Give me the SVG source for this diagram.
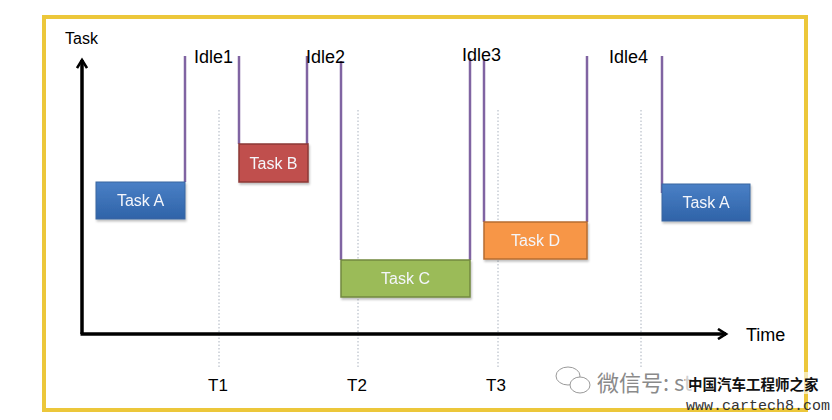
<svg xmlns="http://www.w3.org/2000/svg" width="832" height="420" viewBox="0 0 832 420">
<defs>
<linearGradient id="gBlue" x1="0" y1="0" x2="0" y2="1"><stop offset="0" stop-color="#4a80c6"/><stop offset="1" stop-color="#2f63a8"/></linearGradient>
<filter id="sh" x="-10%" y="-10%" width="130%" height="140%"><feDropShadow dx="1" dy="2" stdDeviation="1.2" flood-color="#000" flood-opacity="0.25"/></filter>
<marker id="arr" viewBox="0 0 12 12" refX="9" refY="6" markerWidth="12" markerHeight="12" markerUnits="userSpaceOnUse" orient="auto"><path d="M1,1 L9,6 L1,11" fill="none" stroke="#000" stroke-width="2.6" stroke-linejoin="miter"/></marker>
</defs>
<style>
text{font-family:"Liberation Sans",Arial,sans-serif}
.lbl{font-size:18px;fill:#000}
.tl{font-size:17px;fill:#000;text-anchor:middle}
.box{font-size:16px;fill:#f4f6fb;text-anchor:middle}
.pl{stroke:#8064a2;stroke-width:2.5;fill:none}
.dash{stroke:#aab2be;stroke-width:1;stroke-dasharray:1.5 2;fill:none}
.ax{stroke:#000;stroke-width:3.5;fill:none}
</style>
<rect x="0" y="0" width="832" height="420" fill="#fff"/>
<rect x="44" y="17" width="762" height="393" fill="#fff" stroke="#ecc73a" stroke-width="4"/>

<g id="connectors">
<line class="dash" x1="219" y1="110" x2="219" y2="369"/>
<line class="dash" x1="358" y1="110" x2="358" y2="369"/>
<line class="dash" x1="498" y1="110" x2="498" y2="369"/>
<line class="dash" x1="641" y1="110" x2="641" y2="369"/>
<path class="ax" d="M82,334 V60" marker-end="url(#arr)"/>
<path class="ax" d="M80.5,334 H726" marker-end="url(#arr)"/>
<line class="pl" x1="185" y1="56" x2="185" y2="182"/>
<line class="pl" x1="239" y1="56" x2="239" y2="144"/>
<line class="pl" x1="307" y1="56" x2="307" y2="144"/>
<line class="pl" x1="341" y1="61" x2="341" y2="260"/>
<line class="pl" x1="470" y1="58" x2="470" y2="260"/>
<line class="pl" x1="484" y1="60" x2="484" y2="222"/>
<line class="pl" x1="587" y1="56" x2="587" y2="222"/>
<line class="pl" x1="662" y1="56" x2="662" y2="193"/>
</g>

<g id="taskA1" filter="url(#sh)">
<rect x="96" y="182" width="89" height="37" fill="url(#gBlue)" stroke="#3a66a0" stroke-width="1"/>
<text class="box" x="140.5" y="206">Task A</text>
</g>
<g id="taskB" filter="url(#sh)">
<rect x="239" y="144" width="69" height="38" fill="#c0504d" stroke="#8c3836" stroke-width="1.5"/>
<text class="box" x="273.5" y="169">Task B</text>
</g>
<g id="taskC" filter="url(#sh)">
<rect x="341" y="260" width="129" height="37" fill="#9bbb59" stroke="#71893f" stroke-width="1.5"/>
<text class="box" x="405.5" y="284">Task C</text>
</g>
<g id="taskD" filter="url(#sh)">
<rect x="484" y="222" width="103" height="37" fill="#f79646" stroke="#b66d31" stroke-width="1.5"/>
<text class="box" x="535.5" y="246">Task D</text>
</g>
<g id="taskA2" filter="url(#sh)">
<rect x="662" y="184" width="88" height="37" fill="url(#gBlue)" stroke="#3a66a0" stroke-width="1"/>
<text class="box" x="706" y="208">Task A</text>
</g>

<g id="labels">
<text x="65" y="44" style="font-size:16px">Task</text>
<text x="746" y="341" class="lbl">Time</text>
<text x="194" y="63" class="lbl">Idle1</text>
<text x="306" y="63" class="lbl">Idle2</text>
<text x="462" y="61" class="lbl">Idle3</text>
<text x="609" y="63" class="lbl">Idle4</text>
<text x="218" y="391" class="tl">T1</text>
<text x="357" y="391" class="tl">T2</text>
<text x="496" y="391" class="tl">T3</text>
</g>

<g id="watermark">
<g fill="#fff" stroke="#9a9a9a" stroke-width="1">
<ellipse cx="568" cy="376" rx="12" ry="9"/>
<ellipse cx="580" cy="385" rx="10" ry="8"/>
</g>
<text x="597" y="391" style="font-size:22px;fill:#8a8a8a;font-family:'Noto Sans CJK SC',sans-serif">微信号: st</text>
<rect x="685" y="372" width="134" height="22" fill="#fff" opacity="0.6"/>
<text x="688" y="390" style="font-size:14.5px;fill:#111;font-weight:bold;font-family:'Noto Sans CJK SC',sans-serif">中国汽车工程师之家</text>
<text x="686" y="410" style="font-size:15px;fill:#333;font-family:'Liberation Mono',monospace">www.cartech8.com</text>
</g>
</svg>
